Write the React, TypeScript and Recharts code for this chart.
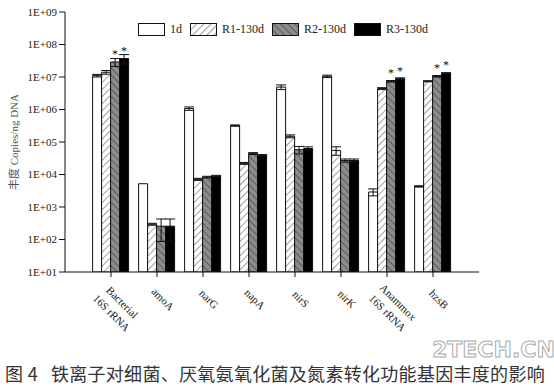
import React from 'react';
import { BarChart, Bar, XAxis, YAxis, ErrorBar, LabelList } from 'recharts';

// 基因名称
const genes = ['Bacterial\n16S rRNA', 'amoA', 'narG', 'napA', 'nirS', 'nirK', 'Anammox\n16S rRNA', 'hzsB'];

// 丰度 (copies/ng DNA)
const d1 = [1.1e7, 5.2e3, 1.07e6, 3.2e5, 4.9e6, 1.05e7, 2.9e3, 4.3e3];
const r1 = [1.4e7, 295, 7.1e3, 2.2e4, 1.5e5, 5.5e4, 4.4e6, 7.4e6];
const r2 = [2.9e7, 257, 8.3e3, 4.4e4, 5.8e4, 2.7e4, 7.4e6, 1.05e7];
const r3 = [3.7e7, 257, 8.9e3, 3.9e4, 6.3e4, 2.7e4, 8.9e6, 1.3e7];

// 误差
const d1Err = [1e6, 0, 1.3e5, 1.5e4, 8e5, 9e5, 700, 200];
const r1Err = [1.8e6, 20, 500, 1.5e3, 1.5e4, 1.6e4, 3e5, 3e5];
const r2Err = [8e6, 170, 500, 3e3, 1.5e4, 3e3, 4e5, 6e5];
const r3Err = [1.2e7, 170, 500, 2e3, 8e3, 3e3, 5e5, 6e5];

// 显著性标记
const r2Star = [true, false, false, false, false, false, true, true];
const r3Star = [true, false, false, false, false, false, true, true];

const yTicks = [1e1, 1e2, 1e3, 1e4, 1e5, 1e6, 1e7, 1e8, 1e9];

const data = genes.map((g, i) => ({
  gene: g,
  d1: d1[i],
  r1: r1[i],
  r2: r2[i],
  r3: r3[i],
  d1Err: d1Err[i],
  r1Err: r1Err[i],
  r2Err: r2Err[i],
  r3Err: r3Err[i],
}));

const serif = '"Liberation Serif", "Times New Roman", serif';

const fmtTick = (v: number) => {
  const e = Math.round(Math.log10(v));
  return `1E+${e < 10 ? '0' + e : e}`;
};

const XTick = (props: any) => {
  const { x, y, payload } = props;
  const lines = String(payload.value).split('\n');
  return (
    <g transform={`translate(${x + 6},${y + 20}) rotate(45)`}>
      {lines.map((l, i) => (
        <text
          key={i}
          x={lines.length > 1 ? 6 : 0}
          y={lines.length > 1 ? 6 + (i - 0.5) * 15 : 0}
          textAnchor="middle"
          dominantBaseline="central"
          fontFamily={serif}
          fontSize={11}
          fill="#222"
        >
          {l}
        </text>
      ))}
    </g>
  );
};

const YLabel = (props: any) => {
  const { viewBox } = props;
  const cx = viewBox.x + 6;
  const cy = viewBox.y + viewBox.height / 2;
  return (
    <text
      x={cx}
      y={cy}
      transform={`rotate(-90, ${cx}, ${cy})`}
      textAnchor="middle"
      dominantBaseline="central"
      fontFamily={`${serif}, "Noto Sans CJK SC"`}
      fontSize={11}
      fill="#555"
    >
      丰度 Copies/ng DNA
    </text>
  );
};

const starLabel = (flags: boolean[]) => (props: any) => {
  const { x, y, width, index } = props;
  if (!flags[index]) return null;
  return (
    <text x={x + width / 2} y={y - 4} textAnchor="middle" fontFamily={serif} fontSize={12} fill="#111">
      *
    </text>
  );
};

const legendItems = [
  { name: '1d', fill: '#fff' },
  { name: 'R1-130d', fill: 'url(#hatchR1)' },
  { name: 'R2-130d', fill: 'url(#hatchR2)' },
  { name: 'R3-130d', fill: '#000' },
];

const LegendBox = () => (
  <div
    style={{
      position: 'absolute',
      left: 138,
      top: 22,
      display: 'flex',
      alignItems: 'center',
      fontFamily: serif,
      fontSize: 12,
      color: '#222',
    }}
  >
    {legendItems.map((it) => (
      <div key={it.name} style={{ display: 'flex', alignItems: 'center', marginRight: 8 }}>
        <svg width={27} height={13}>
          <rect x={0.5} y={0.5} width={26} height={12} fill={it.fill} stroke="#111" />
        </svg>
        <span style={{ marginLeft: 5 }}>{it.name}</span>
      </div>
    ))}
  </div>
);

export default function App() {
  return (
    <div style={{ position: 'absolute', left: 0, top: 0, width: 554, height: 386, background: '#fff' }}>
      <BarChart
        width={554}
        height={350}
        data={data}
        margin={{ top: 12, right: 75, bottom: 8, left: 8 }}
        barCategoryGap="10%"
        barGap={0}
      >
        <defs>
          <pattern id="hatchR1" patternUnits="userSpaceOnUse" width={5} height={5} patternTransform="rotate(45)">
            <rect width={5} height={5} fill="#fff" />
            <line x1={0} y1={0} x2={0} y2={5} stroke="#444" strokeWidth={1} />
          </pattern>
          <pattern id="hatchR2" patternUnits="userSpaceOnUse" width={5} height={5} patternTransform="rotate(-45)">
            <rect width={5} height={5} fill="#8c8c8c" />
            <line x1={0} y1={0} x2={0} y2={5} stroke="#3a3a3a" strokeWidth={1.2} />
          </pattern>
        </defs>
        <XAxis
          dataKey="gene"
          interval={0}
          height={70}
          padding={{ left: 23, right: 23 }}
          tick={<XTick />}
          tickSize={5}
          axisLine={{ stroke: '#111' }}
          tickLine={{ stroke: '#111' }}
        />
        <XAxis xAxisId="top" orientation="top" dataKey="gene" height={0} tick={false} tickLine={false} axisLine={{ stroke: '#111' }} />
        <YAxis
          scale="log"
          domain={[10, 1e9]}
          ticks={yTicks}
          allowDataOverflow
          width={57}
          tickFormatter={fmtTick}
          tick={{ fontFamily: serif, fontSize: 11, fill: '#222' }}
          tickSize={6}
          axisLine={{ stroke: '#111' }}
          tickLine={{ stroke: '#111' }}
          label={<YLabel />}
        />
        <YAxis yAxisId="right" orientation="right" width={0} tick={false} tickLine={false} axisLine={{ stroke: '#111' }} />
        <Bar dataKey="d1" fill="#fff" stroke="#111" strokeWidth={1} isAnimationActive={false}>
          <ErrorBar dataKey="d1Err" width={5} stroke="#111" strokeWidth={1} />
        </Bar>
        <Bar dataKey="r1" fill="url(#hatchR1)" stroke="#111" strokeWidth={1} isAnimationActive={false}>
          <ErrorBar dataKey="r1Err" width={5} stroke="#111" strokeWidth={1} />
        </Bar>
        <Bar dataKey="r2" fill="url(#hatchR2)" stroke="#111" strokeWidth={1} isAnimationActive={false}>
          <ErrorBar dataKey="r2Err" width={5} stroke="#111" strokeWidth={1} />
          <LabelList dataKey="r2" content={starLabel(r2Star)} />
        </Bar>
        <Bar dataKey="r3" fill="#000" stroke="#111" strokeWidth={1} isAnimationActive={false}>
          <ErrorBar dataKey="r3Err" width={5} stroke="#111" strokeWidth={1} />
          <LabelList dataKey="r3" content={starLabel(r3Star)} />
        </Bar>
      </BarChart>
      <LegendBox />
      <div
        style={{
          position: 'absolute',
          left: 432,
          top: 338,
          fontFamily: '"DejaVu Sans", sans-serif',
          fontWeight: 'bold',
          fontSize: 22,
          lineHeight: '24px',
          color: 'rgba(255,255,255,0.6)',
          WebkitTextStroke: '1px #aaa',
          whiteSpace: 'pre',
        }}
      >
        2TECH.CN
      </div>
      <div
        style={{
          position: 'absolute',
          left: 5,
          top: 362,
          fontFamily: '"Noto Sans CJK SC", sans-serif',
          fontSize: 18,
          letterSpacing: 0.3,
          color: '#333',
          whiteSpace: 'pre',
          lineHeight: '22px',
        }}
      >
        {'图 4   铁离子对细菌、厌氧氨氧化菌及氮素转化功能基因丰度的影响'}
      </div>
    </div>
  );
}
